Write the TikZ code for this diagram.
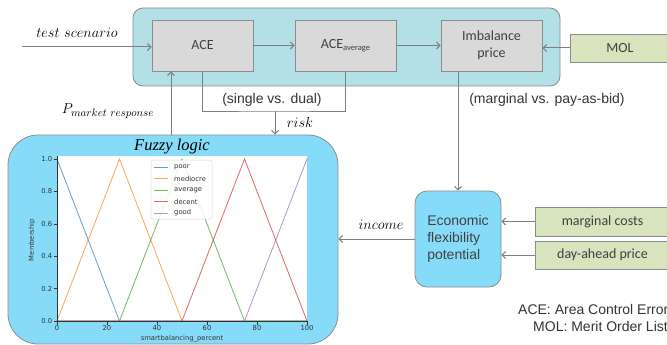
\documentclass[tikz,border=0pt]{standalone}
\usepackage{fontspec}
\newfontfamily\carl{Carlito}
\newfontfamily\arialf{Liberation Sans}
\newfontfamily\dejav{DejaVu Sans}
\newfontfamily\serifit{Liberation Serif}
\usetikzlibrary{arrows.meta,calc}
\definecolor{tealbg}{HTML}{B3DFE6}
\definecolor{fuzzybg}{HTML}{86DCF8}
\definecolor{graybox}{HTML}{D9D9D9}
\definecolor{greenbox}{HTML}{D7E4BD}
\definecolor{edgegray}{HTML}{8C8C8C}
\definecolor{arrowgray}{HTML}{7F7F7F}
\definecolor{mplA}{HTML}{1F77B4}
\definecolor{mplB}{HTML}{FF7F0E}
\definecolor{mplC}{HTML}{2CA02C}
\definecolor{mplD}{HTML}{D62728}
\definecolor{mplE}{HTML}{9467BD}
\definecolor{axisgray}{HTML}{333333}
\begin{document}
\begin{tikzpicture}[x=1pt,y=-1pt,
  container/.style={draw=edgegray,fill=tealbg,rounded corners=10pt,line width=0.8pt,inner sep=0pt},
  fuzzybox/.style={draw=edgegray,fill=fuzzybg,rounded corners=30pt,line width=0.8pt,inner sep=0pt},
  procbox/.style={draw=edgegray,fill=graybox,line width=0.8pt,minimum width=101pt,minimum height=51pt,inner sep=0pt,align=center,font=\carl\fontsize{14}{17}\selectfont,text=black!75},
  inbox/.style={draw=edgegray,fill=greenbox,line width=0.8pt,inner sep=0pt,font=\carl\fontsize{14}{17}\selectfont,text=black!75},
  econbox/.style={draw=edgegray,fill=fuzzybg,rounded corners=12pt,line width=0.8pt,minimum width=86pt,minimum height=96pt,inner sep=0pt,align=left,font=\arialf\fontsize{14}{17}\selectfont,text=black!75},
  conn/.style={draw=arrowgray,line width=1pt},
  arr/.style={conn,-{Straight Barb[length=3.5pt,width=7pt]}},
  lbl/.style={font=\arialf\fontsize{14}{16}\selectfont,text=black!80,inner sep=0pt},
  mathlbl/.style={font=\fontsize{14}{16}\selectfont,inner sep=0pt},
  tick/.style={font=\dejav\fontsize{6.8}{8}\selectfont,text=axisgray,inner sep=1pt},
  mpl/.style={line width=0.8pt,draw opacity=0.7}
]
\clip (0,0) rectangle (667,345);

% top container
\node[container,minimum width=427pt,minimum height=78pt] (top) at (346.5,47) {};
\node[procbox] (ace) at (202.5,45.5) {ACE};
\node[procbox] (aceavg) at (345.5,45.5) {ACE\raisebox{-2.5pt}{\fontsize{8.5}{9}\selectfont average}};
\node[procbox] (imb) at (491.5,45.5) {Imbalance\\price};
\node[inbox,minimum width=100pt,minimum height=28pt] (mol) at (620,48) {MOL};

% fuzzy logic box
\node[fuzzybox,minimum width=330pt,minimum height=209pt] (fuzzy) at (173,239.5) {};
\node[font=\serifit\itshape\fontsize{16.5}{18}\selectfont,inner sep=0pt] (fuzzytitle) at (172,147) {Fuzzy logic};

% economic box and inputs
\node[econbox] (econ) at (458,239) {Economic\\flexibility\\potential};
\node[inbox,minimum width=135pt,minimum height=29pt] (mc) at (602.5,221.5) {marginal costs};
\node[inbox,minimum width=135pt,minimum height=28pt] (da) at (602.5,255) {day-ahead price};

% connectors
\coordinate (ts) at (22,47);
\draw[arr] (ts) -- (ts -| ace.west);
\node[mathlbl] (tslbl) at (77,33) {$test\ scenario$};
\draw[arr] (ace) -- (aceavg);
\draw[arr] (aceavg) -- (imb);
\draw[arr] (mol.west) -- (mol.west -| imb.east);

\coordinate (join) at (275,111);
\draw[conn] (ace.south) |- (join) -| (aceavg.south);
\draw[arr] (join) -- (join |- fuzzy.north);
\node[lbl] (sd) at (272,100) {(single vs. dual)};
\node[mathlbl] (risk) at (300,123) {$risk$};

\coordinate (pm) at (171,135);
\draw[arr] (pm) -- (pm |- ace.south);
\node[mathlbl] (pmlbl) at (108,111) {$P_{\mbox{\fontsize{11}{12}\selectfont$market\ response$}}$};

\coordinate (imbdown) at (458,71);
\draw[arr] (imbdown) -- (imbdown |- econ.north);
\node[lbl] (mp) at (547,100) {(marginal vs. pay-as-bid)};

\draw[arr] (mc) -- (mc -| econ.east);
\draw[arr] (da) -- (da -| econ.east);
\draw[arr] (econ.west) -- (econ.west -| fuzzy.east);
\node[mathlbl] (inc) at (381,225) {$income$};

\node[lbl,anchor=west] (leg1) at (518,309) {ACE: Area Control Error};
\node[lbl,anchor=west] (leg2) at (533,326) {MOL: Merit Order List};

% plot
\fill[white] (57,156) rectangle (307,321);
\begin{scope}[shift={(57,321)},x=2.5pt,y=162pt]
  \draw[mpl,mplA] (0,1) -- (25,0) -- (100,0);
  \draw[mpl,mplB] (0,0) -- (25,1) -- (50,0) -- (100,0);
  \draw[mpl,mplC] (0,0) -- (25,0) -- (50,1) -- (75,0) -- (100,0);
  \draw[mpl,mplD] (0,0) -- (50,0) -- (75,1) -- (100,0);
  \draw[mpl,mplE] (0,0) -- (75,0) -- (100,1);
  \draw[axisgray,line width=0.6pt] (0,1.02) -- (0,0) -- (100,0);
  \foreach \m in {0.0,0.2,0.4,0.6,0.8,1.0}{
    \draw[axisgray,line width=0.5pt] (0,\m) -- (-1.4,\m);
    \node[tick,anchor=east] at (-1.4,\m) {\m};
  }
  \foreach \v in {0,20,40,60,80,100}{
    \draw[axisgray,line width=0.5pt] (\v,0) -- (\v,-0.022);
    \node[tick,anchor=north] at (\v,-0.022) {\v};
  }
\end{scope}
\node[tick,rotate=90] (ylab) at (32,240) {Membership};
\node[tick] (xlab) at (182,339) {smartbalancing\_percent};

% legend
\draw[black!15,fill=white,fill opacity=0.85,rounded corners=2pt,line width=0.5pt] (151,160) rectangle (212,219);
\foreach \c/\t/\yy in {mplA/poor/167,mplB/mediocre/178.5,mplC/average/190,mplD/decent/201.5,mplE/good/213}{
  \draw[mpl,\c] (153.5,\yy) -- (167.5,\yy);
  \node[tick,anchor=west,inner sep=0pt] at (174,\yy) {\t};
}
\end{tikzpicture}
\end{document}
